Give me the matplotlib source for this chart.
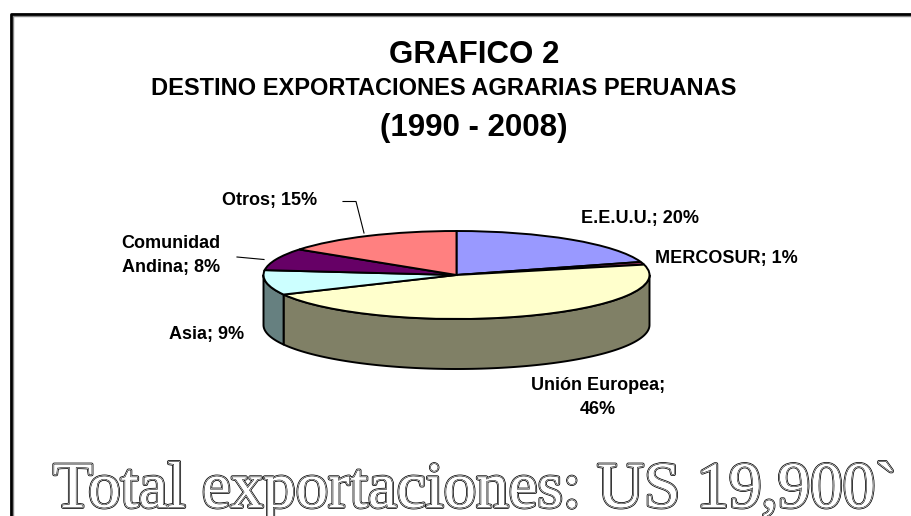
import matplotlib
matplotlib.use('Agg')
import matplotlib.pyplot as plt
import numpy as np
from matplotlib import colors as mcolors
from matplotlib.patches import Polygon
from matplotlib.lines import Line2D
import matplotlib.patheffects as pe

# ---------------- data ----------------
categories = ['E.E.U.U.', 'MERCOSUR', 'Unión Europea', 'Asia', 'Comunidad Andina', 'Otros']
shares = [20, 1, 46, 9, 8, 15]
label_texts = ['E.E.U.U.; 20%', 'MERCOSUR; 1%', 'Unión Europea;\n46%', 'Asia; 9%',
               'Comunidad\nAndina; 8%', 'Otros; 15%']
title_main = 'GRAFICO 2'
title_sub = 'DESTINO EXPORTACIONES AGRARIAS PERUANAS'
title_period = '(1990 - 2008)'
footer = 'Total exportaciones: US 19,900`'

# ---------------- style ----------------
top_colors = ['#9999FF', '#993366', '#FFFFCC', '#CCFFFF', '#660066', '#FF8080']
SANS = 'Liberation Sans'
SERIF = 'Liberation Serif'

W, H = 911, 516
fig = plt.figure(figsize=(W / 100, H / 100), dpi=100)
fig.patch.set_facecolor('white')
ax = fig.add_axes([0, 0, 1, 1])

# ellipse geometry in pixels (centre, semi-axes, depth)
CX, CY, RX, RY, DEPTH = 456.5, 275.0, 193.0, 44.0, 50.0


def d(px, py):
    return ((px - CX) / RX, (CY - py) / RY)


wedges, _ = ax.pie(shares, colors=top_colors, startangle=90, counterclock=False,
                   radius=1, center=(0, 0),
                   wedgeprops=dict(edgecolor='black', linewidth=1.4, zorder=3))
ax.set_aspect('auto')
ax.set_xlim(-CX / RX, (W - CX) / RX)
ax.set_ylim(-(H - CY) / RY, CY / RY)
ax.axis('off')

# side faces of the 3D pie (front half only)
h = DEPTH / RY
for w, c in zip(wedges, top_colors):
    a = max(w.theta1, -180.0)
    b = min(w.theta2, 0.0)
    if b <= a:
        continue
    t = np.radians(np.linspace(a, b, 120))
    xs, ys = np.cos(t), np.sin(t)
    pts = np.concatenate([np.column_stack([xs, ys]),
                          np.column_stack([xs[::-1], ys[::-1] - h])])
    side = tuple(0.5 * np.array(mcolors.to_rgb(c)))
    ax.add_patch(Polygon(pts, closed=True, facecolor=side, edgecolor='black',
                         linewidth=1.4, joinstyle='round', zorder=2))

# data labels
label_pos = [(640, 219, 'center'), (655, 258, 'left'), (598, 397.5, 'center'),
             (207, 335, 'center'), (171, 255.5, 'center'), (270, 200, 'center')]
for txt, (px, py, ha) in zip(label_texts, label_pos):
    x, y = d(px, py)
    ax.text(x, y, txt, ha=ha, va='center', fontsize=13, fontweight='bold',
            family=SANS, linespacing=1.5, multialignment='center', zorder=5)

# leader lines
for pts in ([(343, 201.5), (356, 201.5), (364, 233)],
            [(237, 257), (264, 259.5)]):
    xy = np.array([d(*p) for p in pts])
    ax.plot(xy[:, 0], xy[:, 1], color='black', lw=0.8, zorder=4)

# titles
fig.text(474.5 / W, 1 - 63 / H, title_main, ha='center', va='baseline',
         fontsize=22.5, fontweight='bold', family=SANS)
fig.text(443.5 / W, 1 - 95 / H, title_sub, ha='center', va='baseline',
         fontsize=17, fontweight='bold', family=SANS)
fig.text(473.5 / W, 1 - 136 / H, title_period, ha='center', va='baseline',
         fontsize=22.5, fontweight='bold', family=SANS)

# outlined footer text
fig.text(53 / W, 1 - 507 / H, footer, ha='left', va='baseline', fontsize=46.8,
         family=SERIF, color='white',
         path_effects=[pe.Stroke(linewidth=2.6, foreground='black'),
                       pe.Stroke(linewidth=1.5, foreground='white'),
                       pe.Stroke(linewidth=0.7, foreground='black'),
                       pe.Normal()])

# frame (left and top borders)
fig.add_artist(Line2D([12.5 / W, 12.5 / W, 1], [0, 1 - 15.5 / H, 1 - 15.5 / H],
                      transform=fig.transFigure, color='#888888', lw=1.0))
fig.add_artist(Line2D([10.5 / W, 10.5 / W, 1], [0, 1 - 13.5 / H, 1 - 13.5 / H],
                      transform=fig.transFigure, color='black', lw=2.0))

fig.savefig('out.png', dpi=100, facecolor='white')
